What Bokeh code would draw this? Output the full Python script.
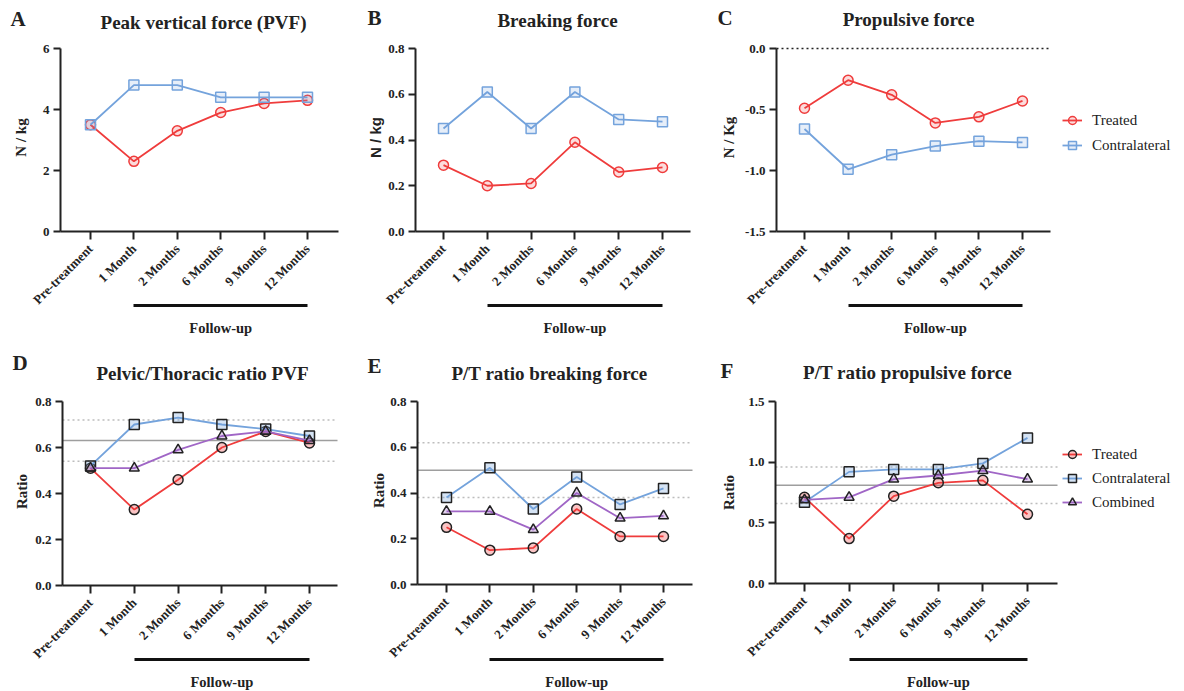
import math
from bokeh.plotting import figure
from bokeh.models import (Range1d, FixedTicker, LinearAxis, Label, Legend,
                          LegendItem, PrintfTickFormatter)
from bokeh.layouts import row, column
from bokeh.embed import file_html
from bokeh.resources import INLINE

# ---------------- data ----------------
categories = ["Pre-treatment", "1 Month", "2 Months", "6 Months", "9 Months", "12 Months"]

pvf_treated = [3.5, 2.3, 3.3, 3.9, 4.2, 4.3]
pvf_contra = [3.5, 4.8, 4.8, 4.4, 4.4, 4.4]

brk_treated = [0.29, 0.20, 0.21, 0.39, 0.26, 0.28]
brk_contra = [0.45, 0.61, 0.45, 0.61, 0.49, 0.48]

prop_treated = [-0.49, -0.26, -0.38, -0.61, -0.56, -0.43]
prop_contra = [-0.66, -0.99, -0.87, -0.80, -0.76, -0.77]

pvf_ratio_treated = [0.51, 0.33, 0.46, 0.60, 0.67, 0.62]
pvf_ratio_contra = [0.52, 0.70, 0.73, 0.70, 0.68, 0.65]
pvf_ratio_combined = [0.51, 0.51, 0.59, 0.65, 0.67, 0.63]
pvf_ratio_ref = [0.54, 0.63, 0.72]      # low, mean, high

brk_ratio_treated = [0.25, 0.15, 0.16, 0.33, 0.21, 0.21]
brk_ratio_contra = [0.38, 0.51, 0.33, 0.47, 0.35, 0.42]
brk_ratio_combined = [0.32, 0.32, 0.24, 0.40, 0.29, 0.30]
brk_ratio_ref = [0.38, 0.50, 0.62]

prop_ratio_treated = [0.71, 0.37, 0.72, 0.83, 0.85, 0.57]
prop_ratio_contra = [0.67, 0.92, 0.94, 0.94, 0.99, 1.20]
prop_ratio_combined = [0.69, 0.71, 0.86, 0.89, 0.93, 0.86]
prop_ratio_ref = [0.66, 0.81, 0.96]

series_names = ["Treated", "Contralateral", "Combined"]
followup_label = "Follow-up"

# ---------------- style ----------------
RED = "#EF3C3C"
BLUE = "#74A3DC"
PURPLE = "#A066C6"
INK = "#222222"
SERIF = "Liberation Serif"
SANS = "Liberation Sans"

N = len(categories)
x_idx = list(range(N))


class Panel:
    """One panel whose frame covers its whole box; axes are drawn at fixed locations."""

    def __init__(self, box, xpix, ypix, yr):
        x0, y0, W, H = box
        ax_l, first, last, ax_r = xpix
        ytop, ybot = ypix
        ymin, ymax = yr
        self.x0, self.y0, self.W, self.H = x0, y0, W, H
        s = (last - first) / (N - 1)
        ky = (ybot - ytop) / (ymax - ymin)
        self.ky, self.ybot, self.ymin = ky, ybot, ymin
        self.xb = ((ax_l - first) / s, (N - 1) + (ax_r - last) / s)
        self.yb = (ymin, ymax)
        p = figure(width=W, height=H,
                   x_range=Range1d((x0 - first) / s, (x0 + W - first) / s),
                   y_range=Range1d(ymin - (y0 + H - ybot) / ky, ymax + (ytop - y0) / ky),
                   output_backend="svg", toolbar_location=None,
                   min_border=0, min_border_left=0, min_border_right=0,
                   min_border_top=0, min_border_bottom=0)
        p.outline_line_color = None
        p.grid.visible = False
        self.p = p

    def sx(self, page_x):
        return page_x - self.x0

    def sy(self, page_y):
        return (self.y0 + self.H) - page_y

    def ydata(self, page_y):
        return self.ymin - (page_y - self.ybot) / self.ky


def style_axis(ax, tick_out, standoff):
    ax.axis_line_width = 2
    ax.axis_line_color = INK
    ax.major_tick_line_width = 2
    ax.major_tick_line_color = INK
    ax.major_tick_out = tick_out
    ax.major_tick_in = 0
    ax.minor_tick_line_color = None
    ax.major_label_text_font = SERIF
    ax.major_label_text_font_style = "bold"
    ax.major_label_text_font_size = "13px"
    ax.major_label_text_color = INK
    ax.major_label_standoff = standoff


def build(box, xpix, ypix, yr, yticks, yfmt, ylabel, ylabel_font, ylabel_pos,
          letter, letter_pos, title, title_pos, bar_y, fu_y):
    P = Panel(box, xpix, ypix, yr)
    p = P.p
    xa = p.xaxis[0]
    ya = p.yaxis[0]
    xa.fixed_location = yr[0]
    xa.bounds = P.xb
    xa.ticker = FixedTicker(ticks=x_idx)
    xa.major_label_overrides = {i: c for i, c in enumerate(categories)}
    xa.major_label_orientation = math.pi / 4
    ya.fixed_location = P.xb[0]
    ya.bounds = P.yb
    ya.ticker = FixedTicker(ticks=yticks)
    ya.formatter = PrintfTickFormatter(format=yfmt)
    style_axis(xa, 8, 7)
    style_axis(ya, 7, 4)

    # follow-up bar: an axis bounded to the follow-up categories
    fu = LinearAxis(bounds=(1, N - 1), ticker=FixedTicker(ticks=[]),
                    fixed_location=P.ydata(bar_y))
    fu.axis_line_width = 3
    fu.axis_line_color = "#111111"
    fu.major_tick_line_color = None
    fu.minor_tick_line_color = None
    fu.major_label_text_font_size = "0px"
    p.add_layout(fu, "below")

    p.add_layout(Label(x=(1 + N - 1) / 2, y=P.sy(fu_y), x_units="data", y_units="screen",
                       text=followup_label, text_font=SERIF, text_font_style="bold",
                       text_font_size="14.5px", text_color=INK,
                       text_align="center", text_baseline="middle"))
    p.add_layout(Label(x=P.sx(title_pos[0]), y=P.sy(title_pos[1]), x_units="screen",
                       y_units="screen", text=title, text_font=SERIF, text_font_style="bold",
                       text_font_size="19px", text_color=INK,
                       text_align="center", text_baseline="middle"))
    p.add_layout(Label(x=P.sx(letter_pos[0]), y=P.sy(letter_pos[1]), x_units="screen",
                       y_units="screen", text=letter, text_font=SERIF, text_font_style="bold",
                       text_font_size="21px", text_color=INK,
                       text_align="left", text_baseline="middle"))
    p.add_layout(Label(x=P.sx(ylabel_pos[0]), y=P.sy(ylabel_pos[1]), x_units="screen",
                       y_units="screen", text=ylabel, text_font=ylabel_font,
                       text_font_style="bold", text_font_size="15px", text_color=INK,
                       angle=math.pi / 2, text_align="center", text_baseline="middle"))
    return P


def add_top_series(P, ys, color, marker):
    lr = P.p.line(x_idx, ys, line_color=color, line_width=1.8)
    sr = P.p.scatter(x_idx, ys, marker=marker, size=10, line_color=color, line_width=1.5,
                     fill_color=color, fill_alpha=0.18)
    return [lr, sr]


def add_bottom_series(P, ys, color, marker):
    lr = P.p.line(x_idx, ys, line_color=color, line_width=1.8)
    sr = P.p.scatter(x_idx, ys, marker=marker, size=10, line_color=INK, line_width=1.5,
                     fill_color=color, fill_alpha=0.3)
    return [lr, sr]


def add_refs(P, ref):
    lo, mid, hi = ref
    x0, x1 = P.xb
    P.p.segment(x0=[x0, x0], x1=[x1, x1], y0=[lo, hi], y1=[lo, hi],
                line_color="#BDBDBD", line_width=1.5, line_dash="2 3")
    P.p.segment(x0=[x0], x1=[x1], y0=[mid], y1=[mid], line_color="#9E9E9E", line_width=1.5)


def add_legend(P, groups, glyph_left, first_center, spacing):
    pad, lh = 6, 20
    n = len(groups)
    items = [LegendItem(label=nm, renderers=g) for nm, g in zip(series_names, groups)]
    top = first_center - pad - lh / 2
    box_h = 2 * pad + n * lh + (n - 1) * spacing
    lg = Legend(items=items, location=(P.sx(glyph_left - pad), P.sy(top + box_h)),
                border_line_color=None, background_fill_alpha=0,
                label_text_font=SERIF, label_text_font_size="15px",
                label_text_color=INK, glyph_width=20, glyph_height=20, label_height=lh,
                spacing=spacing, padding=pad, margin=0, label_standoff=10)
    P.p.add_layout(lg)


# ---------------- row 1 ----------------
R1, H1 = 0, 345
A = build((0, R1, 362, H1), (60, 90, 307, 338), (48, 231), (0, 6), [0, 2, 4, 6], "%d",
          "N / kg", SERIF, (20, 137), "A", (10, 18), "Peak vertical force (PVF)", (203, 22),
          305, 327)
add_top_series(A, pvf_treated, RED, "circle")
add_top_series(A, pvf_contra, BLUE, "square")

B = build((362, R1, 350, H1), (415, 443, 662, 690), (48, 231), (0, 0.8),
          [0, 0.2, 0.4, 0.6, 0.8], "%.1f",
          "N / kg", SANS, (375, 137), "B", (367, 17), "Breaking force", (557, 20),
          305, 327)
add_top_series(B, brk_treated, RED, "circle")
add_top_series(B, brk_contra, BLUE, "square")

C = build((712, R1, 472, H1), (776, 804, 1022, 1050), (48, 231), (-1.5, 0),
          [-1.5, -1.0, -0.5, 0.0], "%.1f",
          "N / Kg", SERIF, (728, 137), "C", (717, 17), "Propulsive force", (908, 19),
          305, 327)
C.p.segment(x0=[C.xb[0]], x1=[C.xb[1]], y0=[0.0], y1=[0.0], line_color=INK,
            line_width=1.3, line_dash="2 3")
gC1 = add_top_series(C, prop_treated, RED, "circle")
gC2 = add_top_series(C, prop_contra, BLUE, "square")
add_legend(C, [gC1, gC2], 1068, 114, 5)

# ---------------- row 2 ----------------
R2, H2 = R1 + H1, 346
D = build((0, R2, 362, H2), (62, 90, 309, 337), (401, 585), (0, 0.8),
          [0, 0.2, 0.4, 0.6, 0.8], "%.1f",
          "Ratio", SERIF, (21, 491), "D", (12, 362), "Pelvic/Thoracic ratio PVF", (202, 373),
          659, 681)
add_refs(D, pvf_ratio_ref)
add_bottom_series(D, pvf_ratio_treated, RED, "circle")
add_bottom_series(D, pvf_ratio_contra, BLUE, "square")
add_bottom_series(D, pvf_ratio_combined, PURPLE, "triangle")

E = build((362, R2, 350, H2), (417, 446, 663, 692), (401, 584), (0, 0.8),
          [0, 0.2, 0.4, 0.6, 0.8], "%.1f",
          "Ratio", SERIF, (378, 490), "E", (367, 365), "P/T ratio breaking force", (549, 373),
          659, 681)
add_refs(E, brk_ratio_ref)
add_bottom_series(E, brk_ratio_treated, RED, "circle")
add_bottom_series(E, brk_ratio_contra, BLUE, "square")
add_bottom_series(E, brk_ratio_combined, PURPLE, "triangle")

F = build((712, R2, 472, H2), (775, 804, 1027, 1057), (401, 583), (0, 1.5),
          [0, 0.5, 1.0, 1.5], "%.1f",
          "Ratio", SERIF, (728, 492), "F", (720, 370), "P/T ratio propulsive force", (907, 372),
          659, 681)
add_refs(F, prop_ratio_ref)
gF1 = add_bottom_series(F, prop_ratio_treated, RED, "circle")
gF2 = add_bottom_series(F, prop_ratio_contra, BLUE, "square")
gF3 = add_bottom_series(F, prop_ratio_combined, PURPLE, "triangle")
add_legend(F, [gF1, gF2, gF3], 1068, 448, 4)

layout = column(row(A.p, B.p, C.p), row(D.p, E.p, F.p))
open("out.html", "w").write(file_html(layout, INLINE))
